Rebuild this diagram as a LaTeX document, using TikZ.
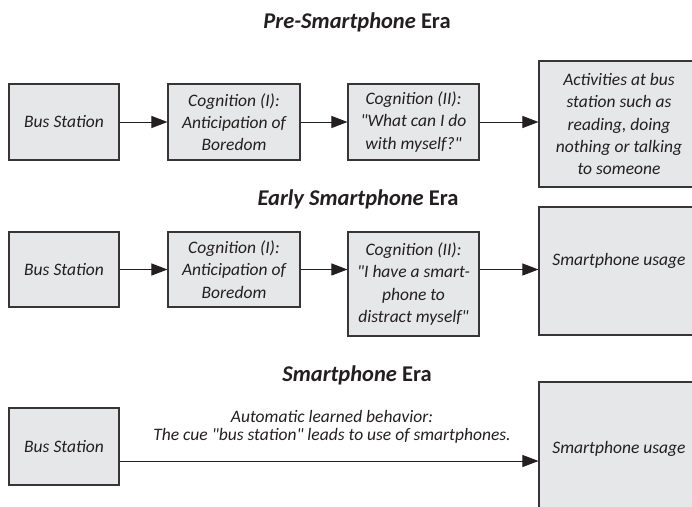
\documentclass[tikz,border=0pt]{standalone}
\usepackage{fontspec}
\setmainfont{Carlito}[Ligatures=TeXOff]
\usetikzlibrary{arrows.meta}
\definecolor{boxfill}{HTML}{E6E7E8}
\definecolor{ink}{HTML}{231F20}
\begin{document}
\begin{tikzpicture}[x=1pt,y=-1pt,
  box/.style={draw=ink!90, line width=1.1pt, fill=boxfill, inner sep=0pt,
    align=center, text=ink, font=\itshape\fontsize{17.5}{22.3}\selectfont},
  title/.style={font=\bfseries\fontsize{22.5}{26}\selectfont, text=ink,
    anchor=base, inner sep=0pt},
  arr/.style={draw=ink, line width=1pt, -{Triangle[length=16pt,width=12pt]}},
  cue/.style={font=\itshape\fontsize{17.5}{18}\selectfont, text=ink,
    align=center, inner sep=0pt},
]
\useasboundingbox (0,0) rectangle (692,506);

% ---- Pre-Smartphone Era ----
\node[title] (t1) at (357,28) {\textit{Pre-Smartphone} Era};
\node[box, minimum width=110pt, minimum height=76pt] (bs1) at (64,122) {Bus Station};
\node[box, minimum width=132pt, minimum height=76pt] (ca1) at (234,122)
  {Cognition (I):\\Anticipation of\\Boredom};
\node[box, minimum width=131pt, minimum height=76pt] (cb1) at (413.5,122)
  {Cognition (II):\\"What can I do\\with myself?"};
\node[box, minimum width=160pt, minimum height=126pt] (act) at (619,124)
  {Activities at bus\\station such as\\reading, doing\\nothing or talking\\to someone};
\draw[arr] (bs1) -- (ca1);
\draw[arr] (ca1) -- (cb1);
\draw[arr] (cb1.east) -- (cb1.east -| act.west);

% ---- Early Smartphone Era ----
\node[title] (t2) at (358,205) {\textit{Early Smartphone} Era};
\node[box, minimum width=110pt, minimum height=75pt] (bs2) at (64,269.5) {Bus Station};
\node[box, minimum width=132pt, minimum height=75pt] (ca2) at (234,269.5)
  {Cognition (I):\\Anticipation of\\Boredom};
\node[box, minimum width=131pt, minimum height=104pt] (cb2) at (413.5,284)
  {Cognition (II):\\"I have a smart-\\phone to\\distract myself"};
\node[box, minimum width=160pt, minimum height=128pt, text height=10pt,
  text depth=22pt] (su2) at (619,271) {Smartphone usage};
\draw[arr] (bs2) -- (ca2);
\draw[arr] (ca2.east) -- (ca2.east -| cb2.west);
\draw[arr] (cb2.east |- ca2.east) -- (ca2.east -| su2.west);

% ---- Smartphone Era ----
\node[title] (t3) at (357,381) {\textit{Smartphone} Era};
\node[box, minimum width=110pt, minimum height=77pt] (bs3) at (64,446.5) {Bus Station};
\node[box, minimum width=160pt, minimum height=158pt, text height=10pt,
  text depth=26pt] (su3) at (619,461) {Smartphone usage};
\draw[arr] (bs3.east |- su3.west) -- (su3.west)
  node[cue, midway, above=17.5pt, xshift=3pt] (lab)
  {Automatic learned behavior:\\The cue "bus station" leads to use of smartphones.};
\end{tikzpicture}
\end{document}
